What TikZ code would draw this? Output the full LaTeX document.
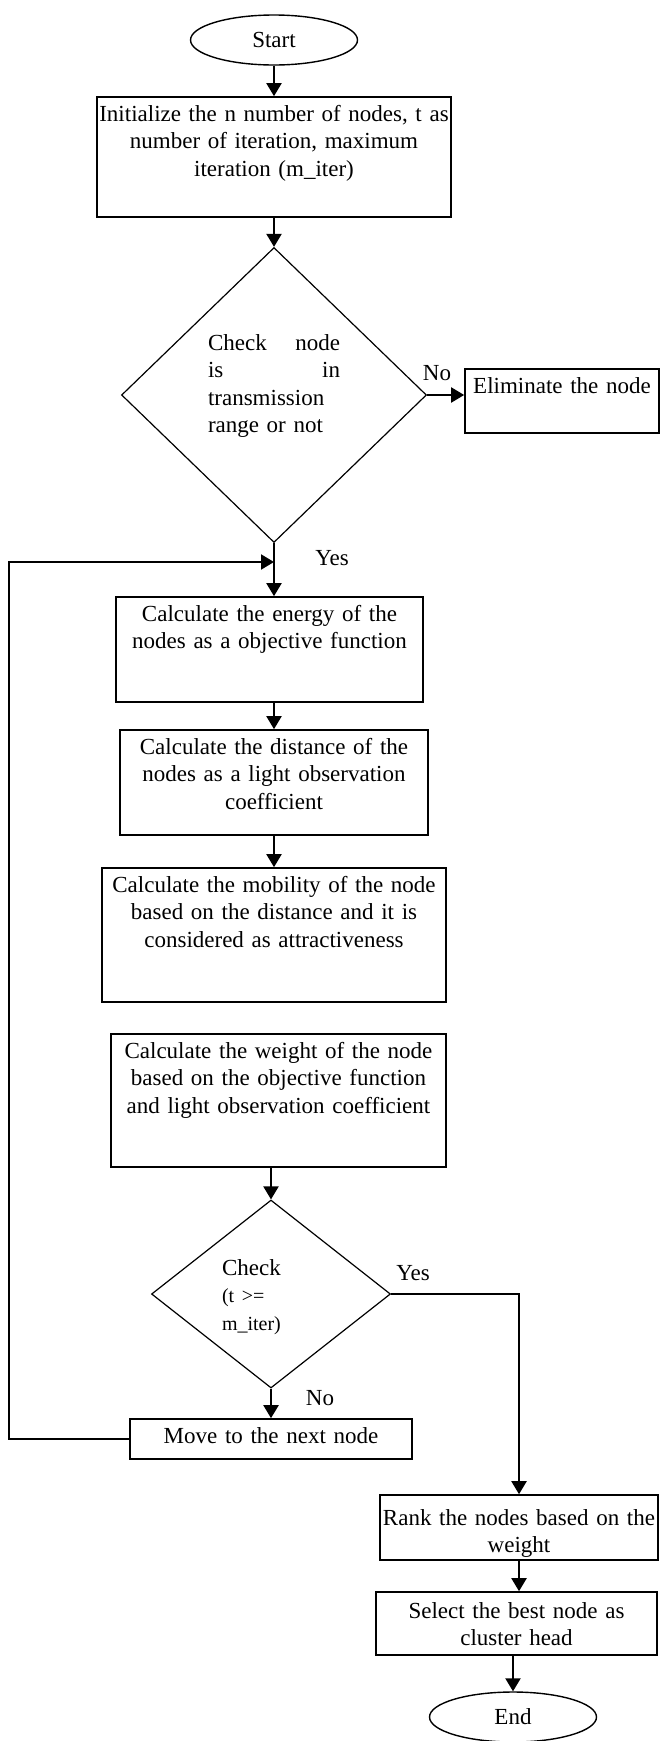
\documentclass[tikz,border=0pt]{standalone}
\usepackage{fontspec}
\setmainfont{Liberation Serif}
\usepackage{tikz}
\usetikzlibrary{shapes.geometric, arrows.meta, calc}
\newcommand{\condfont}{\fontsize{10}{12.5}\selectfont}
\tikzstyle{arrow} = [line width=1pt,-{Triangle[length=6.5pt,width=7.5pt]}]
\tikzstyle{flow} = [line width=1pt]
\tikzstyle{process} = [rectangle, draw=black, line width=0.8pt, align=center, inner xsep=-6pt, inner ysep=0pt, text height=12pt, font=\fontsize{11.5}{13.8}\selectfont]
\tikzstyle{decision} = [diamond, draw=black, line width=0.6pt, align=left, inner sep=0pt, font=\fontsize{11.5}{13.8}\selectfont]
\tikzstyle{terminal} = [ellipse, draw=black, line width=0.7pt, minimum width=83.5pt, minimum height=25pt, inner sep=0pt, font=\fontsize{11.5}{13.8}\selectfont]
\tikzstyle{branch} = [inner sep=0pt, font=\fontsize{11.5}{13.8}\selectfont]

\begin{document}
\begin{tikzpicture}[x=0.5pt, y=-0.5pt]
    \useasboundingbox (0,0) rectangle (660,1741);

    % Start
    \node (start) [terminal] at (274,40) {Start};
    \node (init) [process, text width=189pt, text depth=48pt] at (274,157) {Initialize the n number of nodes, t as\\ number of iteration, maximum\\ iteration (m\_iter)};

    % Range check
    \node (check1) [decision, minimum width=152.5pt, minimum height=147.5pt, text width=66pt, text height=9pt, text depth=54pt] at (274,395) {\makebox[66pt][l]{Check\hfill node}\\ \makebox[66pt][l]{is\hfill in}\\ transmission\\ range or not};
    \node (elim) [process, text width=109pt, text depth=20pt] at (562,401) {Eliminate the node};

    % Firefly steps
    \node (energy) [process, text width=165.5pt, text depth=40.5pt] at (269.5,649.5) {Calculate the energy of the\\ nodes as a objective function};
    \node (dist) [process, text width=166pt, text depth=40.5pt] at (274,782.5) {Calculate the distance of the\\ nodes as a light observation\\ coefficient};
    \node (mobil) [process, text width=184pt, text depth=55pt] at (274,935) {Calculate the mobility of the node\\ based on the distance and it is\\ considered as attractiveness};
    \node (weight) [process, text width=179.5pt, text depth=54.5pt] at (278.5,1100.5) {Calculate the weight of the node\\ based on the objective function\\ and light observation coefficient};

    % Iteration check
    \node (check2) [decision, minimum width=119.5pt, minimum height=94pt, text width=49pt, text height=9pt, text depth=28pt] at (271,1294) {Check\\ {\condfont (t >=}\\ {\condfont m\_iter)}};
    \node (move) [process, text width=153pt, text depth=8pt] at (271,1439) {Move to the next node};

    % Output
    \node (rank) [process, text width=151pt, text height=15pt, text depth=17.5pt] at (519,1527.5) {Rank the nodes based on the\\ weight};
    \node (select) [process, text width=152.5pt, text height=13pt, text depth=18.5pt] at (516.5,1623.5) {Select the best node as\\ cluster head};
    \node (stop) [terminal] at (513,1717) {End};

    % Labels
    \node (no1) [branch] at (437,373) {No};
    \node (yes1) [branch] at (332,558) {Yes};
    \node (yes2) [branch] at (413,1273) {Yes};
    \node (no2) [branch] at (320,1398) {No};

    \coordinate (merge) at (274,562);
    \coordinate (loopleft) at (9,562);

    % Arrows
    \draw [arrow] (start) -- (init);
    \draw [arrow] (init) -- (check1);
    \draw [arrow] (check1.east) -- (check1.east -| elim.west);
    \draw [arrow] (check1.south) -- (check1.south |- energy.north);
    \draw [arrow] (dist.north |- energy.south) -- (dist.north);
    \draw [arrow] (mobil.north |- dist.south) -- (mobil.north);
    \draw [arrow] (check2.north |- weight.south) -- (check2.north);
    \draw [arrow] (check2) -- (move);
    \draw [arrow] (check2.east) -| (rank.north);
    \draw [arrow] (rank.south) -- (rank.south |- select.north);
    \draw [arrow] (stop.north |- select.south) -- (stop.north);

    % Loop back
    \draw [arrow] (move.west) -| (loopleft) -- (merge);
\end{tikzpicture}
\end{document}
